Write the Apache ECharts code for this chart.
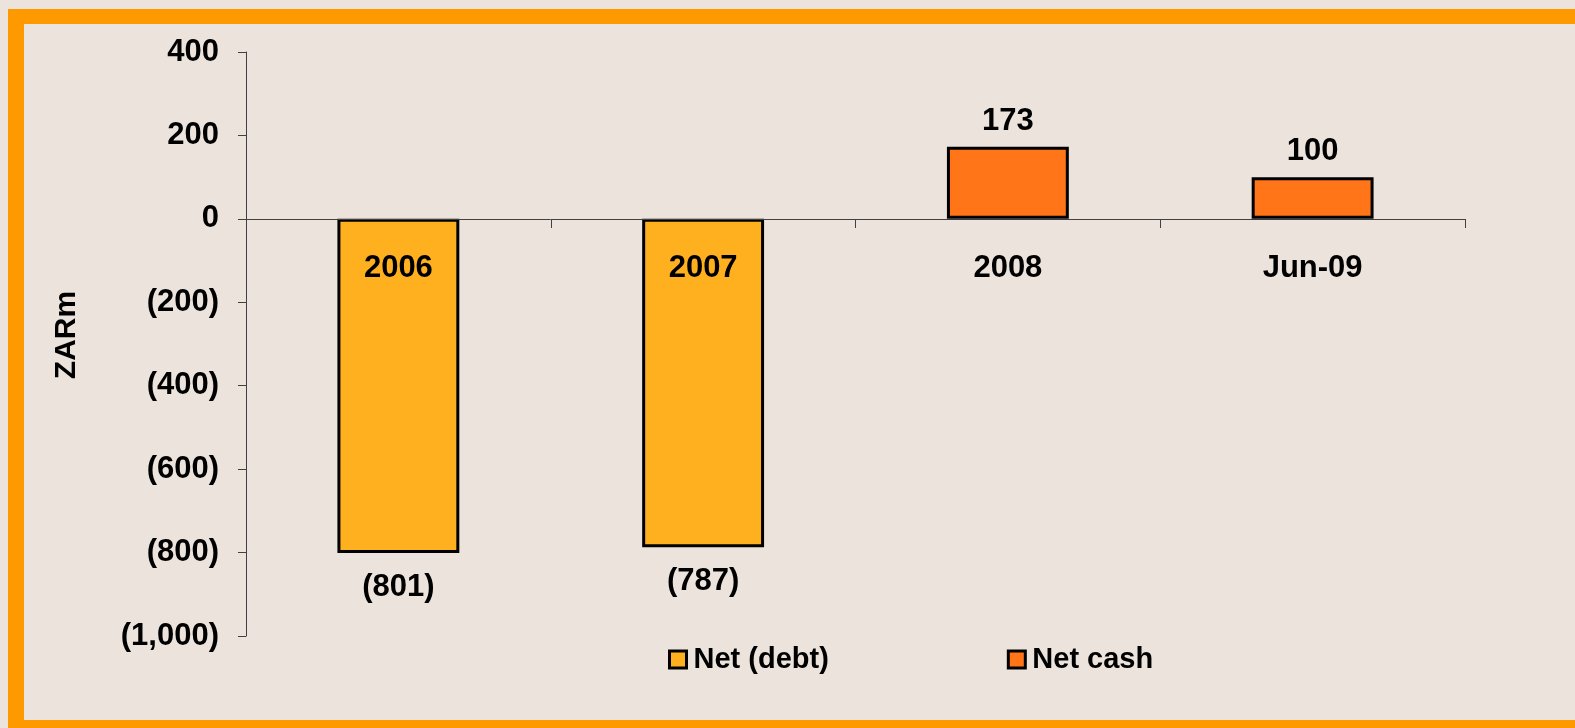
<!DOCTYPE html>
<html>
<head>
<meta charset="utf-8">
<script src="https://cdn.jsdelivr.net/npm/echarts@6/dist/echarts.min.js"></script>
<style>
html, body { margin:0; padding:0; background:#ECE4DC; }
#main { width:1575px; height:728px; }
</style>
</head>
<body>
<div id="main"></div>
<script>
// chart data
var categories = ['2006', '2007', '2008', 'Jun-09'];
var netDebt = [-801, -787, '-', '-'];
var netCash = ['-', '-', 173, 100];
var seriesNames = ['Net (debt)', 'Net cash'];

var FONT = '"Liberation Sans", Arial, sans-serif';

// 负数用括号表示
function fmtNum(v){
	var n = Math.abs(v).toLocaleString('en-US');
	if(v < 0){
		return '(' + n + ')';
	}
	return n;
}

var myChart = echarts.init(document.getElementById('main'));
var option = {
	backgroundColor: '#ECE4DC',
	animation: false,
	textStyle: { fontFamily: FONT },
	graphic: [
		// orange frame
		{ type: 'rect', shape: { x: 8, y: 9, width: 1600, height: 15 }, style: { fill: '#FF9900' }, silent: true },
		{ type: 'rect', shape: { x: 8, y: 9, width: 16, height: 720 }, style: { fill: '#FF9900' }, silent: true },
		{ type: 'rect', shape: { x: 8, y: 720, width: 1600, height: 8 }, style: { fill: '#FF9900' }, silent: true },
		// y axis title
		{ type: 'text', x: 67, y: 335, rotation: Math.PI / 2, silent: true,
			style: { text: 'ZARm', fill: '#000', fontSize: 30, fontWeight: 'bold', fontFamily: FONT, align: 'center', verticalAlign: 'middle' } }
	],
	grid: { left: 246, right: 110, top: 52, bottom: 92, containLabel: false },
	legend: {
		left: 663,
		top: 640,
		itemWidth: 17,
		itemHeight: 17,
		itemGap: 178,
		icon: 'rect',
		data: seriesNames,
		itemStyle: { borderColor: '#000', borderWidth: 3 },
		textStyle: { color: '#000', fontSize: 29, fontWeight: 'bold', fontFamily: FONT, padding: [0, 0, 0, 2] }
	},
	xAxis: {
		type: 'category',
		data: categories,
		position: 'bottom',
		offset: -417,
		axisLine: { onZero: false, lineStyle: { color: '#404040', width: 1 } },
		axisTick: { show: true, length: 9, lineStyle: { color: '#404040' } },
		axisLabel: { color: '#000', fontSize: 31, fontWeight: 'bold', margin: 34, fontFamily: FONT },
		z: 10
	},
	yAxis: {
		type: 'value',
		min: -1000,
		max: 400,
		interval: 200,
		axisLine: { show: true, lineStyle: { color: '#404040', width: 1 } },
		axisTick: { show: true, length: 8, lineStyle: { color: '#404040' } },
		splitLine: { show: false },
		axisLabel: {
			color: '#000', fontSize: 31, fontWeight: 'bold', margin: 27, fontFamily: FONT,
			formatter: function(v){ return fmtNum(v); }
		}
	},
	series: [
		{
			name: seriesNames[0],
			type: 'bar',
			stack: 'all',
			barWidth: '40%',
			data: netDebt,
			itemStyle: { color: '#FFB01E', borderColor: '#000', borderWidth: 3 },
			label: {
				show: true, position: 'bottom', distance: 19,
				color: '#000', fontSize: 31, fontWeight: 'bold', fontFamily: FONT,
				formatter: function(p){ return fmtNum(p.value); }
			}
		},
		{
			name: seriesNames[1],
			type: 'bar',
			stack: 'all',
			barWidth: '40%',
			data: netCash,
			itemStyle: { color: '#FF7518', borderColor: '#000', borderWidth: 3 },
			label: {
				show: true, position: 'top', distance: 10,
				color: '#000', fontSize: 31, fontWeight: 'bold', fontFamily: FONT,
				formatter: function(p){ return fmtNum(p.value); }
			}
		}
	]
};
myChart.setOption(option);
</script>
</body>
</html>
